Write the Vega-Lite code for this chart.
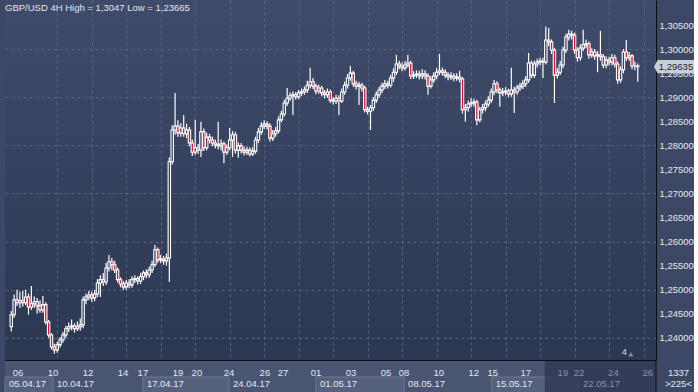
{
"$schema": "https://vega.github.io/schema/vega-lite/v6.json",
"background": "#3d4866",
"padding": {"left": 4, "top": 0, "right": 0, "bottom": 0},
"spacing": 0,
"config": {
  "font": "Liberation Sans",
  "view": {"stroke": null},
  "locale": {"number": {"decimal": ",", "thousands": ".", "grouping": [3], "currency": ["", ""]}}
},
"datasets": {
"candles": [
{"t":-4,"o":1.2423,"h":1.2456,"l":1.2413,"c":1.2448},
{"t":-3,"o":1.2448,"h":1.2490,"l":1.2442,"c":1.2479},
{"t":-2,"o":1.2479,"h":1.2500,"l":1.2466,"c":1.2473},
{"t":-1,"o":1.2473,"h":1.2496,"l":1.2462,"c":1.2477},
{"t":0,"o":1.2477,"h":1.2498,"l":1.2465,"c":1.2473},
{"t":1,"o":1.2473,"h":1.2500,"l":1.2468,"c":1.2485},
{"t":2,"o":1.2485,"h":1.2492,"l":1.2448,"c":1.2464},
{"t":3,"o":1.2464,"h":1.2508,"l":1.2458,"c":1.2471},
{"t":4,"o":1.2471,"h":1.2486,"l":1.2462,"c":1.2475},
{"t":5,"o":1.2475,"h":1.2483,"l":1.2450,"c":1.2467},
{"t":6,"o":1.2467,"h":1.2478,"l":1.2452,"c":1.2458},
{"t":7,"o":1.2458,"h":1.2487,"l":1.2452,"c":1.2469},
{"t":8,"o":1.2469,"h":1.2474,"l":1.2428,"c":1.2433},
{"t":9,"o":1.2433,"h":1.2437,"l":1.2400,"c":1.2406},
{"t":10,"o":1.2406,"h":1.2410,"l":1.2376,"c":1.2381},
{"t":11,"o":1.2381,"h":1.2388,"l":1.2367,"c":1.2375},
{"t":12,"o":1.2375,"h":1.2392,"l":1.2369,"c":1.2386},
{"t":13,"o":1.2386,"h":1.2402,"l":1.2380,"c":1.2396},
{"t":14,"o":1.2396,"h":1.2412,"l":1.2390,"c":1.2406},
{"t":15,"o":1.2406,"h":1.2425,"l":1.2400,"c":1.2419},
{"t":16,"o":1.2419,"h":1.2432,"l":1.2412,"c":1.2423},
{"t":17,"o":1.2423,"h":1.2438,"l":1.2416,"c":1.2425},
{"t":18,"o":1.2425,"h":1.2430,"l":1.2411,"c":1.2419},
{"t":19,"o":1.2419,"h":1.2434,"l":1.2414,"c":1.2423},
{"t":20,"o":1.2423,"h":1.2440,"l":1.2415,"c":1.2427},
{"t":21,"o":1.2427,"h":1.2486,"l":1.2420,"c":1.2479},
{"t":22,"o":1.2479,"h":1.2492,"l":1.2470,"c":1.2485},
{"t":23,"o":1.2485,"h":1.2498,"l":1.2478,"c":1.2489},
{"t":24,"o":1.2489,"h":1.2496,"l":1.2475,"c":1.2483},
{"t":25,"o":1.2483,"h":1.2500,"l":1.2476,"c":1.2491},
{"t":26,"o":1.2491,"h":1.2522,"l":1.2485,"c":1.2514},
{"t":27,"o":1.2514,"h":1.2530,"l":1.2485,"c":1.2521},
{"t":28,"o":1.2521,"h":1.2535,"l":1.2508,"c":1.2516},
{"t":29,"o":1.2516,"h":1.2556,"l":1.2510,"c":1.2545},
{"t":30,"o":1.2545,"h":1.2572,"l":1.2538,"c":1.2558},
{"t":31,"o":1.2558,"h":1.2566,"l":1.2540,"c":1.2552},
{"t":32,"o":1.2552,"h":1.2560,"l":1.2535,"c":1.2541},
{"t":33,"o":1.2541,"h":1.2546,"l":1.2515,"c":1.2521},
{"t":34,"o":1.2521,"h":1.2526,"l":1.2505,"c":1.2512},
{"t":35,"o":1.2512,"h":1.2518,"l":1.2500,"c":1.2506},
{"t":36,"o":1.2506,"h":1.2520,"l":1.2500,"c":1.2514},
{"t":37,"o":1.2514,"h":1.2522,"l":1.2503,"c":1.2510},
{"t":38,"o":1.2510,"h":1.2528,"l":1.2504,"c":1.2521},
{"t":39,"o":1.2521,"h":1.2530,"l":1.2514,"c":1.2523},
{"t":40,"o":1.2523,"h":1.2528,"l":1.2511,"c":1.2518},
{"t":41,"o":1.2518,"h":1.2535,"l":1.2512,"c":1.2527},
{"t":42,"o":1.2527,"h":1.2540,"l":1.2520,"c":1.2535},
{"t":43,"o":1.2535,"h":1.2542,"l":1.2524,"c":1.2531},
{"t":44,"o":1.2531,"h":1.2548,"l":1.2525,"c":1.2541},
{"t":45,"o":1.2541,"h":1.2560,"l":1.2535,"c":1.2552},
{"t":46,"o":1.2552,"h":1.2593,"l":1.2548,"c":1.2583},
{"t":47,"o":1.2583,"h":1.2588,"l":1.2556,"c":1.2562},
{"t":48,"o":1.2562,"h":1.2572,"l":1.2555,"c":1.2564},
{"t":49,"o":1.2564,"h":1.2570,"l":1.2552,"c":1.2560},
{"t":50,"o":1.2560,"h":1.2575,"l":1.2550,"c":1.2566},
{"t":51,"o":1.2566,"h":1.2775,"l":1.2516,"c":1.2766},
{"t":52,"o":1.2766,"h":1.2842,"l":1.2760,"c":1.2832},
{"t":53,"o":1.2832,"h":1.2909,"l":1.2822,"c":1.2840},
{"t":54,"o":1.2840,"h":1.2852,"l":1.2818,"c":1.2826},
{"t":55,"o":1.2826,"h":1.2846,"l":1.2818,"c":1.2836},
{"t":56,"o":1.2836,"h":1.2863,"l":1.2818,"c":1.2824},
{"t":57,"o":1.2824,"h":1.2845,"l":1.2815,"c":1.2832},
{"t":58,"o":1.2832,"h":1.2838,"l":1.2798,"c":1.2805},
{"t":59,"o":1.2805,"h":1.2812,"l":1.2778,"c":1.2786},
{"t":60,"o":1.2786,"h":1.2853,"l":1.2780,"c":1.2795},
{"t":61,"o":1.2795,"h":1.2803,"l":1.2782,"c":1.2790},
{"t":62,"o":1.2790,"h":1.2849,"l":1.2776,"c":1.2828},
{"t":63,"o":1.2828,"h":1.2835,"l":1.2788,"c":1.2795},
{"t":64,"o":1.2795,"h":1.2826,"l":1.2790,"c":1.2817},
{"t":65,"o":1.2817,"h":1.2824,"l":1.2804,"c":1.2811},
{"t":66,"o":1.2811,"h":1.2818,"l":1.2798,"c":1.2805},
{"t":67,"o":1.2805,"h":1.2812,"l":1.2794,"c":1.2801},
{"t":68,"o":1.2801,"h":1.2849,"l":1.2792,"c":1.2799},
{"t":69,"o":1.2799,"h":1.2812,"l":1.2790,"c":1.2803},
{"t":70,"o":1.2803,"h":1.2808,"l":1.2763,"c":1.2786},
{"t":71,"o":1.2786,"h":1.2802,"l":1.2780,"c":1.2795},
{"t":72,"o":1.2795,"h":1.2836,"l":1.2790,"c":1.2811},
{"t":73,"o":1.2811,"h":1.2830,"l":1.2776,"c":1.2822},
{"t":74,"o":1.2822,"h":1.2828,"l":1.2783,"c":1.2790},
{"t":75,"o":1.2790,"h":1.2806,"l":1.2774,"c":1.2799},
{"t":76,"o":1.2799,"h":1.2805,"l":1.2783,"c":1.2790},
{"t":77,"o":1.2790,"h":1.2798,"l":1.2779,"c":1.2786},
{"t":78,"o":1.2786,"h":1.2797,"l":1.2780,"c":1.2790},
{"t":79,"o":1.2790,"h":1.2796,"l":1.2777,"c":1.2782},
{"t":80,"o":1.2782,"h":1.2796,"l":1.2778,"c":1.2788},
{"t":81,"o":1.2788,"h":1.2818,"l":1.2783,"c":1.2811},
{"t":82,"o":1.2811,"h":1.2836,"l":1.2805,"c":1.2828},
{"t":83,"o":1.2828,"h":1.2848,"l":1.2822,"c":1.2840},
{"t":84,"o":1.2840,"h":1.2852,"l":1.2834,"c":1.2844},
{"t":85,"o":1.2844,"h":1.2850,"l":1.2833,"c":1.2840},
{"t":86,"o":1.2840,"h":1.2846,"l":1.2808,"c":1.2815},
{"t":87,"o":1.2815,"h":1.2832,"l":1.2809,"c":1.2824},
{"t":88,"o":1.2824,"h":1.2838,"l":1.2818,"c":1.2830},
{"t":89,"o":1.2830,"h":1.2860,"l":1.2825,"c":1.2853},
{"t":90,"o":1.2853,"h":1.2872,"l":1.2848,"c":1.2865},
{"t":91,"o":1.2865,"h":1.2895,"l":1.2860,"c":1.2888},
{"t":92,"o":1.2888,"h":1.2919,"l":1.2882,"c":1.2898},
{"t":93,"o":1.2898,"h":1.2910,"l":1.2892,"c":1.2903},
{"t":94,"o":1.2903,"h":1.2912,"l":1.2863,"c":1.2905},
{"t":95,"o":1.2905,"h":1.2911,"l":1.2895,"c":1.2901},
{"t":96,"o":1.2901,"h":1.2915,"l":1.2896,"c":1.2909},
{"t":97,"o":1.2909,"h":1.2918,"l":1.2903,"c":1.2911},
{"t":98,"o":1.2911,"h":1.2922,"l":1.2905,"c":1.2915},
{"t":99,"o":1.2915,"h":1.2934,"l":1.2909,"c":1.2925},
{"t":100,"o":1.2925,"h":1.2961,"l":1.2918,"c":1.2932},
{"t":101,"o":1.2932,"h":1.2940,"l":1.2917,"c":1.2923},
{"t":102,"o":1.2923,"h":1.2928,"l":1.2906,"c":1.2913},
{"t":103,"o":1.2913,"h":1.2926,"l":1.2907,"c":1.2919},
{"t":104,"o":1.2919,"h":1.2924,"l":1.2902,"c":1.2909},
{"t":105,"o":1.2909,"h":1.2915,"l":1.2898,"c":1.2905},
{"t":106,"o":1.2905,"h":1.2918,"l":1.2899,"c":1.2911},
{"t":107,"o":1.2911,"h":1.2916,"l":1.2888,"c":1.2894},
{"t":108,"o":1.2894,"h":1.2900,"l":1.2885,"c":1.2892},
{"t":109,"o":1.2892,"h":1.2905,"l":1.2886,"c":1.2898},
{"t":110,"o":1.2898,"h":1.2904,"l":1.2863,"c":1.2892},
{"t":111,"o":1.2892,"h":1.2918,"l":1.2888,"c":1.2911},
{"t":112,"o":1.2911,"h":1.2932,"l":1.2905,"c":1.2925},
{"t":113,"o":1.2925,"h":1.2948,"l":1.2918,"c":1.2940},
{"t":114,"o":1.2940,"h":1.2965,"l":1.2934,"c":1.2950},
{"t":115,"o":1.2950,"h":1.2955,"l":1.2922,"c":1.2928},
{"t":116,"o":1.2928,"h":1.2934,"l":1.2916,"c":1.2923},
{"t":117,"o":1.2923,"h":1.2932,"l":1.2884,"c":1.2925},
{"t":118,"o":1.2925,"h":1.2930,"l":1.2912,"c":1.2919},
{"t":119,"o":1.2919,"h":1.2924,"l":1.2868,"c":1.2874},
{"t":120,"o":1.2874,"h":1.2880,"l":1.2864,"c":1.2871},
{"t":121,"o":1.2871,"h":1.2884,"l":1.2832,"c":1.2878},
{"t":122,"o":1.2878,"h":1.2900,"l":1.2872,"c":1.2894},
{"t":123,"o":1.2894,"h":1.2912,"l":1.2888,"c":1.2905},
{"t":124,"o":1.2905,"h":1.2922,"l":1.2899,"c":1.2915},
{"t":125,"o":1.2915,"h":1.2930,"l":1.2909,"c":1.2923},
{"t":126,"o":1.2923,"h":1.2936,"l":1.2917,"c":1.2928},
{"t":127,"o":1.2928,"h":1.2934,"l":1.2918,"c":1.2925},
{"t":128,"o":1.2925,"h":1.2946,"l":1.2920,"c":1.2940},
{"t":129,"o":1.2940,"h":1.2960,"l":1.2932,"c":1.2952},
{"t":130,"o":1.2952,"h":1.2988,"l":1.2946,"c":1.2969},
{"t":131,"o":1.2969,"h":1.2976,"l":1.2958,"c":1.2965},
{"t":132,"o":1.2965,"h":1.2972,"l":1.2954,"c":1.2961},
{"t":133,"o":1.2961,"h":1.2975,"l":1.2955,"c":1.2967},
{"t":134,"o":1.2967,"h":1.2988,"l":1.2962,"c":1.2971},
{"t":135,"o":1.2971,"h":1.2976,"l":1.2938,"c":1.2944},
{"t":136,"o":1.2944,"h":1.2954,"l":1.2938,"c":1.2946},
{"t":137,"o":1.2946,"h":1.2956,"l":1.2940,"c":1.2948},
{"t":138,"o":1.2948,"h":1.2955,"l":1.2937,"c":1.2944},
{"t":139,"o":1.2944,"h":1.2958,"l":1.2938,"c":1.2948},
{"t":140,"o":1.2948,"h":1.2956,"l":1.2937,"c":1.2944},
{"t":141,"o":1.2944,"h":1.2950,"l":1.2905,"c":1.2923},
{"t":142,"o":1.2923,"h":1.2944,"l":1.2918,"c":1.2936},
{"t":143,"o":1.2936,"h":1.2952,"l":1.2930,"c":1.2944},
{"t":144,"o":1.2944,"h":1.2960,"l":1.2938,"c":1.2952},
{"t":145,"o":1.2952,"h":1.2990,"l":1.2946,"c":1.2955},
{"t":146,"o":1.2955,"h":1.2962,"l":1.2945,"c":1.2952},
{"t":147,"o":1.2952,"h":1.2958,"l":1.2940,"c":1.2946},
{"t":148,"o":1.2946,"h":1.2952,"l":1.2935,"c":1.2942},
{"t":149,"o":1.2942,"h":1.2952,"l":1.2936,"c":1.2944},
{"t":150,"o":1.2944,"h":1.2950,"l":1.2933,"c":1.2940},
{"t":151,"o":1.2940,"h":1.2950,"l":1.2934,"c":1.2942},
{"t":152,"o":1.2942,"h":1.2955,"l":1.2931,"c":1.2938},
{"t":153,"o":1.2938,"h":1.2942,"l":1.2866,"c":1.2874},
{"t":154,"o":1.2874,"h":1.2886,"l":1.2849,"c":1.2878},
{"t":155,"o":1.2878,"h":1.2893,"l":1.2870,"c":1.2886},
{"t":156,"o":1.2886,"h":1.2898,"l":1.2879,"c":1.2888},
{"t":157,"o":1.2888,"h":1.2897,"l":1.2880,"c":1.2890},
{"t":158,"o":1.2890,"h":1.2895,"l":1.2842,"c":1.2853},
{"t":159,"o":1.2853,"h":1.2880,"l":1.2848,"c":1.2874},
{"t":160,"o":1.2874,"h":1.2886,"l":1.2866,"c":1.2878},
{"t":161,"o":1.2878,"h":1.2893,"l":1.2871,"c":1.2886},
{"t":162,"o":1.2886,"h":1.2902,"l":1.2880,"c":1.2894},
{"t":163,"o":1.2894,"h":1.2918,"l":1.2888,"c":1.2911},
{"t":164,"o":1.2911,"h":1.2936,"l":1.2904,"c":1.2928},
{"t":165,"o":1.2928,"h":1.2933,"l":1.2908,"c":1.2915},
{"t":166,"o":1.2915,"h":1.2920,"l":1.2880,"c":1.2909},
{"t":167,"o":1.2909,"h":1.2919,"l":1.2902,"c":1.2911},
{"t":168,"o":1.2911,"h":1.2921,"l":1.2904,"c":1.2913},
{"t":169,"o":1.2913,"h":1.2918,"l":1.2900,"c":1.2907},
{"t":170,"o":1.2907,"h":1.2961,"l":1.2901,"c":1.2915},
{"t":171,"o":1.2915,"h":1.2922,"l":1.2867,"c":1.2911},
{"t":172,"o":1.2911,"h":1.2926,"l":1.2905,"c":1.2919},
{"t":173,"o":1.2919,"h":1.2930,"l":1.2913,"c":1.2923},
{"t":174,"o":1.2923,"h":1.2935,"l":1.2917,"c":1.2928},
{"t":175,"o":1.2928,"h":1.2944,"l":1.2922,"c":1.2936},
{"t":176,"o":1.2936,"h":1.2992,"l":1.2930,"c":1.2971},
{"t":177,"o":1.2971,"h":1.2976,"l":1.2940,"c":1.2946},
{"t":178,"o":1.2946,"h":1.2976,"l":1.2940,"c":1.2969},
{"t":179,"o":1.2969,"h":1.2980,"l":1.2962,"c":1.2973},
{"t":180,"o":1.2973,"h":1.2982,"l":1.2966,"c":1.2975},
{"t":181,"o":1.2975,"h":1.2982,"l":1.2940,"c":1.2973},
{"t":182,"o":1.2973,"h":1.3047,"l":1.2968,"c":1.3019},
{"t":183,"o":1.3019,"h":1.3044,"l":1.3006,"c":1.3015},
{"t":184,"o":1.3015,"h":1.3020,"l":1.2990,"c":1.2998},
{"t":185,"o":1.2998,"h":1.3002,"l":1.2888,"c":1.2946},
{"t":186,"o":1.2946,"h":1.2960,"l":1.2939,"c":1.2952},
{"t":187,"o":1.2952,"h":1.2975,"l":1.2946,"c":1.2967},
{"t":188,"o":1.2967,"h":1.3005,"l":1.2960,"c":1.2998},
{"t":189,"o":1.2998,"h":1.3032,"l":1.2992,"c":1.3025},
{"t":190,"o":1.3025,"h":1.3040,"l":1.3018,"c":1.3031},
{"t":191,"o":1.3031,"h":1.3038,"l":1.3020,"c":1.3029},
{"t":192,"o":1.3029,"h":1.3034,"l":1.2990,"c":1.2998},
{"t":193,"o":1.2998,"h":1.3004,"l":1.2974,"c":1.2982},
{"t":194,"o":1.2982,"h":1.3010,"l":1.2976,"c":1.3002},
{"t":195,"o":1.3002,"h":1.3040,"l":1.2996,"c":1.3009},
{"t":196,"o":1.3009,"h":1.3020,"l":1.3002,"c":1.3011},
{"t":197,"o":1.3011,"h":1.3016,"l":1.2980,"c":1.2988},
{"t":198,"o":1.2988,"h":1.3002,"l":1.2982,"c":1.2994},
{"t":199,"o":1.2994,"h":1.3000,"l":1.2978,"c":1.2986},
{"t":200,"o":1.2986,"h":1.2996,"l":1.2952,"c":1.2988},
{"t":201,"o":1.2988,"h":1.3038,"l":1.2976,"c":1.2984},
{"t":202,"o":1.2984,"h":1.2990,"l":1.2960,"c":1.2967},
{"t":203,"o":1.2967,"h":1.2985,"l":1.2960,"c":1.2977},
{"t":204,"o":1.2977,"h":1.2984,"l":1.2966,"c":1.2973},
{"t":205,"o":1.2973,"h":1.2990,"l":1.2966,"c":1.2982},
{"t":206,"o":1.2982,"h":1.2988,"l":1.2962,"c":1.2969},
{"t":207,"o":1.2969,"h":1.2974,"l":1.2928,"c":1.2936},
{"t":208,"o":1.2936,"h":1.2964,"l":1.2930,"c":1.2957},
{"t":209,"o":1.2957,"h":1.3000,"l":1.2950,"c":1.2994},
{"t":210,"o":1.2994,"h":1.3019,"l":1.2975,"c":1.2982},
{"t":211,"o":1.2982,"h":1.2994,"l":1.2976,"c":1.2986},
{"t":212,"o":1.2986,"h":1.2990,"l":1.2958,"c":1.2965},
{"t":213,"o":1.2965,"h":1.2974,"l":1.2956,"c":1.2965},
{"t":214,"o":1.2965,"h":1.2970,"l":1.2932,"c":1.29635}
],
"days": [
{"t":0,"d":"06","row":"day"},{"t":12,"d":"10","row":"day"},{"t":24,"d":"12","row":"day"},{"t":36,"d":"14","row":"day"},
{"t":42.8,"d":"17","row":"day"},{"t":54.8,"d":"19","row":"day"},{"t":61.3,"d":"20","row":"day"},{"t":72.3,"d":"24","row":"day"},
{"t":84.6,"d":"26","row":"day"},{"t":90.8,"d":"27","row":"day"},{"t":102.1,"d":"01","row":"day"},{"t":114.1,"d":"03","row":"day"},
{"t":126.1,"d":"05","row":"day"},{"t":132.3,"d":"08","row":"day"},{"t":144.2,"d":"10","row":"day"},{"t":156.2,"d":"12","row":"day"},
{"t":162.7,"d":"15","row":"day"},{"t":174,"d":"17","row":"day"},{"t":186.7,"d":"19","row":"day"},{"t":192.2,"d":"22","row":"day"},
{"t":204,"d":"24","row":"day"},{"t":215.8,"d":"26","row":"day"}
],
"weeks": [
{"t":-4.44,"e":12,"w":"05.04.17","hl":1,"row":"week"},
{"t":12,"e":42.8,"w":"10.04.17","hl":0,"row":"week"},
{"t":42.8,"e":72.3,"w":"17.04.17","hl":1,"row":"week"},
{"t":72.3,"e":102.1,"w":"24.04.17","hl":0,"row":"week"},
{"t":102.1,"e":132.3,"w":"01.05.17","hl":1,"row":"week"},
{"t":132.3,"e":162.3,"w":"08.05.17","hl":0,"row":"week"},
{"t":162.3,"e":192.2,"w":"15.05.17","hl":1,"row":"week"},
{"t":192.2,"e":218.6,"w":"22.05.17","hl":0,"row":"week"}
]
},
"vconcat": [
{
  "width": 651, "height": 360,
  "view": {"fill": {"gradient": "linear", "x1": 0, "y1": 0, "x2": 0, "y2": 1, "stops": [{"offset": 0, "color": "#3f4b6a"}, {"offset": 1, "color": "#2c3752"}]}, "stroke": null},
  "title": {"text": "GBP/USD 4H High = 1,3047 Low = 1,23665", "anchor": "start", "frame": "group", "offset": -12, "fontSize": 9.5, "fontWeight": "normal", "color": "#e2e6ee", "font": "Liberation Sans"},
  "data": {"name": "candles"},
  "resolve": {"axis": {"y": "independent"}},
  "encoding": {
    "x": {"field": "t", "type": "quantitative", "scale": {"domain": [-4.44, 218.6], "nice": false, "zero": false},
      "axis": {"orient": "bottom", "values": [12,24,36,48,60,72,84,96,108,120,132,144,156,168,180,192,204,216], "labels": false, "ticks": false, "domain": true, "domainColor": "#0b0d12", "domainWidth": 1, "grid": true, "gridColor": "#56627e", "gridDash": [3,3], "title": null}}
  },
  "layer": [
    {"mark": {"type": "rule", "color": "#ffffff", "strokeWidth": 1.2},
     "encoding": {
       "y": {"field": "l", "type": "quantitative", "scale": {"domain": [1.2354, 1.3102], "nice": false, "zero": false},
         "axis": {"orient": "right", "values": [1.24,1.245,1.25,1.255,1.26,1.265,1.27,1.275,1.28,1.285,1.29,1.295,1.3,1.305], "format": ".5f", "labelColor": "#e6e9f0", "labelFontSize": 9.5, "labelFont": "Liberation Sans", "labelPadding": 3, "ticks": false, "domain": true, "domainColor": "#0b0d12", "domainWidth": 1, "grid": false, "title": null, "labelOverlap": false}},
       "y2": {"field": "h"}
     }},
    {"mark": {"type": "bar", "size": 2.4, "stroke": "#ffffff", "strokeWidth": 1.1},
     "encoding": {
       "y": {"field": "o", "type": "quantitative",
         "axis": {"orient": "right", "values": [1.24,1.25,1.26,1.27,1.28,1.29,1.3], "labels": false, "ticks": false, "domain": false, "grid": true, "gridColor": "#56627e", "gridDash": [3,3], "title": null}},
       "y2": {"field": "c"},
       "fill": {"condition": {"test": "datum.c < datum.o", "value": "#e3102f"}, "value": "#34405d"}
     }},
    {"transform": [{"filter": "datum.t == 214"}],
     "mark": {"type": "point", "shape": "M-1,0L-0.82,-0.33L1,-0.33L1,0.33L-0.82,0.33Z", "size": 1600, "filled": true, "color": "#c9ced8", "opacity": 1, "clip": false},
     "encoding": {"x": {"datum": 226.6}, "y": {"field": "c", "type": "quantitative", "axis": null}}},
    {"transform": [{"filter": "datum.t == 214"}],
     "mark": {"type": "text", "color": "#1a2236", "fontSize": 9.5, "clip": false},
     "encoding": {"x": {"datum": 227.3}, "y": {"field": "c", "type": "quantitative", "axis": null}, "text": {"field": "c", "type": "quantitative", "format": ".5f"}}},
    {"transform": [{"filter": "datum.t == 214"}],
     "mark": {"type": "text", "color": "#d6dbe4", "fontSize": 9.5, "text": "4", "clip": false},
     "encoding": {"x": {"datum": 209.3}, "y": {"datum": 1.2371, "type": "quantitative", "axis": null}}},
    {"transform": [{"filter": "datum.t == 214"}],
     "mark": {"type": "point", "shape": "triangle-up", "size": 28, "filled": true, "color": "#7f889c", "opacity": 1, "clip": false},
     "encoding": {"x": {"datum": 211.6}, "y": {"datum": 1.2366, "type": "quantitative", "axis": null}}}
  ]
},
{
  "width": 651, "height": 32,
  "view": {"fill": "#4a5572", "stroke": null},
  "layer": [
    {"data": {"name": "weeks"}, "transform": [{"filter": "datum.hl == 1"}],
     "mark": {"type": "rect", "fill": "#56617e", "stroke": "#6f7a93", "strokeWidth": 1},
     "encoding": {
       "x": {"field": "t", "type": "quantitative", "scale": {"domain": [-4.44, 218.6], "nice": false, "zero": false}, "axis": null},
       "x2": {"field": "e"},
       "y": {"field": "row", "type": "nominal", "scale": {"domain": ["day", "week"], "paddingInner": 0, "paddingOuter": 0}, "axis": null}
     }},
    {"data": {"values": [{"t": 180.5, "e": 218.6}]},
     "mark": {"type": "rect", "fill": "#2c3650", "opacity": 0.75},
     "encoding": {"x": {"field": "t", "type": "quantitative"}, "x2": {"field": "e"}}},
    {"data": {"name": "days"},
     "mark": {"type": "text", "fontSize": 9.5, "dy": 3.5},
     "encoding": {
       "x": {"field": "t", "type": "quantitative"},
       "y": {"field": "row", "type": "nominal"},
       "text": {"field": "d"},
       "color": {"condition": {"test": "datum.t > 180", "value": "#8a93a7"}, "value": "#e4e8ef"}
     }},
    {"data": {"name": "weeks"},
     "mark": {"type": "text", "fontSize": 9.5, "align": "left", "dx": 4, "dy": -1.5},
     "encoding": {
       "x": {"field": "t", "type": "quantitative"},
       "y": {"field": "row", "type": "nominal"},
       "text": {"field": "w"},
       "color": {"condition": {"test": "datum.t > 180", "value": "#8a93a7"}, "value": "#e4e8ef"}
     }},
    {"data": {"values": [{}]},
     "mark": {"type": "rule", "color": "#0b0d12", "strokeWidth": 1, "clip": false},
     "encoding": {"x": {"datum": 218.6}}},
    {"data": {"values": [{}]},
     "mark": {"type": "text", "fontSize": 9.5, "color": "#e4e8ef", "text": "1337", "dy": 3.5, "clip": false},
     "encoding": {"x": {"datum": 226.3}, "y": {"datum": "day"}}},
    {"data": {"values": [{}]},
     "mark": {"type": "text", "fontSize": 9.5, "color": "#e4e8ef", "text": ">225<", "dy": -1.5, "clip": false},
     "encoding": {"x": {"datum": 226.3}, "y": {"datum": "week"}}}
  ]
}
]
}
